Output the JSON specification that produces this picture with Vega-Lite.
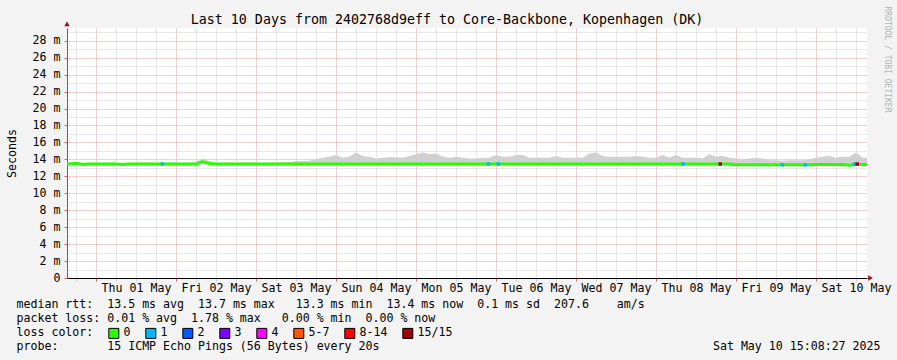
{
  "$schema": "https://vega.github.io/schema/vega-lite/v6.json",
  "width": 800,
  "height": 250,
  "autosize": {"type": "none"},
  "padding": {"left": 67, "top": 28, "right": 30, "bottom": 82},
  "background": "#f3f3f3",
  "config": {"view": {"fill": "white", "stroke": null}, "font": "DejaVu Sans Mono"},
  "title": {
    "text": "Last 10 Days from 2402768d9eff to Core-Backbone, Kopenhagen (DK)",
    "font": "DejaVu Sans Mono", "fontSize": 13.3, "fontWeight": "normal", "color": "black",
    "anchor": "middle", "frame": "group", "offset": 0, "dx": -20, "dy": 20.5
  },
  "datasets": {
    "ping": [
      {"t":"2025-04-30T14:00Z","hi":13.6,"med":13.45},
      {"t":"2025-04-30T16:00Z","hi":13.6,"med":13.45},
      {"t":"2025-04-30T18:00Z","hi":13.65,"med":13.55},
      {"t":"2025-04-30T20:00Z","hi":13.6,"med":13.4},
      {"t":"2025-04-30T22:00Z","hi":13.6,"med":13.45},
      {"t":"2025-05-01T00:00Z","hi":13.6,"med":13.45},
      {"t":"2025-05-01T02:00Z","hi":13.6,"med":13.45},
      {"t":"2025-05-01T04:00Z","hi":13.6,"med":13.45},
      {"t":"2025-05-01T06:00Z","hi":13.6,"med":13.45},
      {"t":"2025-05-01T08:00Z","hi":13.6,"med":13.4},
      {"t":"2025-05-01T10:00Z","hi":13.6,"med":13.45},
      {"t":"2025-05-01T12:00Z","hi":13.6,"med":13.45},
      {"t":"2025-05-01T14:00Z","hi":13.6,"med":13.45},
      {"t":"2025-05-01T16:00Z","hi":13.6,"med":13.45},
      {"t":"2025-05-01T18:00Z","hi":13.6,"med":13.45},
      {"t":"2025-05-01T20:00Z","hi":13.6,"med":13.45},
      {"t":"2025-05-01T22:00Z","hi":13.6,"med":13.45},
      {"t":"2025-05-02T00:00Z","hi":13.6,"med":13.45},
      {"t":"2025-05-02T02:00Z","hi":13.6,"med":13.45},
      {"t":"2025-05-02T04:00Z","hi":13.6,"med":13.45},
      {"t":"2025-05-02T06:00Z","hi":13.65,"med":13.45},
      {"t":"2025-05-02T08:00Z","hi":14.1,"med":13.7},
      {"t":"2025-05-02T10:00Z","hi":13.8,"med":13.5},
      {"t":"2025-05-02T12:00Z","hi":13.6,"med":13.45},
      {"t":"2025-05-02T14:00Z","hi":13.6,"med":13.45},
      {"t":"2025-05-02T16:00Z","hi":13.6,"med":13.45},
      {"t":"2025-05-02T18:00Z","hi":13.6,"med":13.45},
      {"t":"2025-05-02T20:00Z","hi":13.6,"med":13.45},
      {"t":"2025-05-02T22:00Z","hi":13.6,"med":13.45},
      {"t":"2025-05-03T00:00Z","hi":13.6,"med":13.45},
      {"t":"2025-05-03T02:00Z","hi":13.6,"med":13.45},
      {"t":"2025-05-03T04:00Z","hi":13.6,"med":13.45},
      {"t":"2025-05-03T06:00Z","hi":13.6,"med":13.45},
      {"t":"2025-05-03T08:00Z","hi":13.65,"med":13.45},
      {"t":"2025-05-03T10:00Z","hi":13.65,"med":13.45},
      {"t":"2025-05-03T12:00Z","hi":13.8,"med":13.45},
      {"t":"2025-05-03T14:00Z","hi":13.8,"med":13.45},
      {"t":"2025-05-03T16:00Z","hi":13.85,"med":13.45},
      {"t":"2025-05-03T18:00Z","hi":14.0,"med":13.45},
      {"t":"2025-05-03T20:00Z","hi":14.2,"med":13.45},
      {"t":"2025-05-03T22:00Z","hi":14.3,"med":13.45},
      {"t":"2025-05-04T00:00Z","hi":14.5,"med":13.45},
      {"t":"2025-05-04T02:00Z","hi":14.2,"med":13.45},
      {"t":"2025-05-04T04:00Z","hi":14.3,"med":13.45},
      {"t":"2025-05-04T06:00Z","hi":14.8,"med":13.45},
      {"t":"2025-05-04T08:00Z","hi":14.4,"med":13.45},
      {"t":"2025-05-04T10:00Z","hi":14.3,"med":13.45},
      {"t":"2025-05-04T12:00Z","hi":14.1,"med":13.45},
      {"t":"2025-05-04T14:00Z","hi":14.2,"med":13.45},
      {"t":"2025-05-04T16:00Z","hi":14.25,"med":13.45},
      {"t":"2025-05-04T18:00Z","hi":14.25,"med":13.45},
      {"t":"2025-05-04T20:00Z","hi":14.2,"med":13.45},
      {"t":"2025-05-04T22:00Z","hi":14.4,"med":13.45},
      {"t":"2025-05-05T00:00Z","hi":14.6,"med":13.45},
      {"t":"2025-05-05T02:00Z","hi":14.8,"med":13.45},
      {"t":"2025-05-05T04:00Z","hi":14.6,"med":13.45},
      {"t":"2025-05-05T06:00Z","hi":14.7,"med":13.45},
      {"t":"2025-05-05T08:00Z","hi":14.3,"med":13.45},
      {"t":"2025-05-05T10:00Z","hi":14.2,"med":13.45},
      {"t":"2025-05-05T12:00Z","hi":14.3,"med":13.45},
      {"t":"2025-05-05T14:00Z","hi":14.2,"med":13.45},
      {"t":"2025-05-05T16:00Z","hi":14.1,"med":13.45},
      {"t":"2025-05-05T18:00Z","hi":14.1,"med":13.45},
      {"t":"2025-05-05T20:00Z","hi":14.2,"med":13.45},
      {"t":"2025-05-05T22:00Z","hi":14.2,"med":13.45},
      {"t":"2025-05-06T00:00Z","hi":14.5,"med":13.45},
      {"t":"2025-05-06T02:00Z","hi":14.3,"med":13.45},
      {"t":"2025-05-06T04:00Z","hi":14.3,"med":13.45},
      {"t":"2025-05-06T06:00Z","hi":14.5,"med":13.45},
      {"t":"2025-05-06T08:00Z","hi":14.5,"med":13.45},
      {"t":"2025-05-06T10:00Z","hi":14.2,"med":13.45},
      {"t":"2025-05-06T12:00Z","hi":14.2,"med":13.45},
      {"t":"2025-05-06T14:00Z","hi":14.2,"med":13.45},
      {"t":"2025-05-06T16:00Z","hi":14.2,"med":13.45},
      {"t":"2025-05-06T18:00Z","hi":14.4,"med":13.45},
      {"t":"2025-05-06T20:00Z","hi":14.2,"med":13.45},
      {"t":"2025-05-06T22:00Z","hi":14.2,"med":13.45},
      {"t":"2025-05-07T00:00Z","hi":14.2,"med":13.45},
      {"t":"2025-05-07T02:00Z","hi":14.2,"med":13.45},
      {"t":"2025-05-07T04:00Z","hi":14.7,"med":13.45},
      {"t":"2025-05-07T06:00Z","hi":14.8,"med":13.45},
      {"t":"2025-05-07T08:00Z","hi":14.4,"med":13.45},
      {"t":"2025-05-07T10:00Z","hi":14.3,"med":13.45},
      {"t":"2025-05-07T12:00Z","hi":14.3,"med":13.45},
      {"t":"2025-05-07T14:00Z","hi":14.3,"med":13.45},
      {"t":"2025-05-07T16:00Z","hi":14.3,"med":13.45},
      {"t":"2025-05-07T18:00Z","hi":14.4,"med":13.45},
      {"t":"2025-05-07T20:00Z","hi":14.3,"med":13.45},
      {"t":"2025-05-07T22:00Z","hi":14.2,"med":13.45},
      {"t":"2025-05-08T00:00Z","hi":14.2,"med":13.45},
      {"t":"2025-05-08T02:00Z","hi":14.5,"med":13.45},
      {"t":"2025-05-08T04:00Z","hi":14.2,"med":13.45},
      {"t":"2025-05-08T06:00Z","hi":14.5,"med":13.45},
      {"t":"2025-05-08T08:00Z","hi":14.2,"med":13.45},
      {"t":"2025-05-08T10:00Z","hi":14.2,"med":13.45},
      {"t":"2025-05-08T12:00Z","hi":14.2,"med":13.45},
      {"t":"2025-05-08T14:00Z","hi":14.1,"med":13.45},
      {"t":"2025-05-08T16:00Z","hi":14.6,"med":13.45},
      {"t":"2025-05-08T18:00Z","hi":14.3,"med":13.45},
      {"t":"2025-05-08T20:00Z","hi":14.4,"med":13.45},
      {"t":"2025-05-08T22:00Z","hi":14.2,"med":13.45},
      {"t":"2025-05-09T00:00Z","hi":14.1,"med":13.35},
      {"t":"2025-05-09T02:00Z","hi":14.0,"med":13.35},
      {"t":"2025-05-09T04:00Z","hi":14.1,"med":13.35},
      {"t":"2025-05-09T06:00Z","hi":14.15,"med":13.35},
      {"t":"2025-05-09T08:00Z","hi":14.1,"med":13.35},
      {"t":"2025-05-09T10:00Z","hi":13.9,"med":13.35},
      {"t":"2025-05-09T12:00Z","hi":13.9,"med":13.35},
      {"t":"2025-05-09T14:00Z","hi":13.85,"med":13.35},
      {"t":"2025-05-09T16:00Z","hi":13.9,"med":13.35},
      {"t":"2025-05-09T18:00Z","hi":13.9,"med":13.35},
      {"t":"2025-05-09T20:00Z","hi":13.9,"med":13.35},
      {"t":"2025-05-09T22:00Z","hi":14.0,"med":13.35},
      {"t":"2025-05-10T00:00Z","hi":14.2,"med":13.4},
      {"t":"2025-05-10T02:00Z","hi":14.3,"med":13.4},
      {"t":"2025-05-10T04:00Z","hi":14.4,"med":13.4},
      {"t":"2025-05-10T06:00Z","hi":14.2,"med":13.4},
      {"t":"2025-05-10T08:00Z","hi":14.3,"med":13.4},
      {"t":"2025-05-10T10:00Z","hi":14.3,"med":13.3},
      {"t":"2025-05-10T12:00Z","hi":14.8,"med":13.4},
      {"t":"2025-05-10T14:00Z","hi":14.2,"med":13.4},
      {"t":"2025-05-10T16:00Z","hi":14.2,"med":13.4}
    ],
    "loss": [
      {"t":"2025-05-01T19:54Z","med":13.45,"loss":"1"},
      {"t":"2025-05-05T21:41Z","med":13.45,"loss":"1"},
      {"t":"2025-05-06T00:41Z","med":13.45,"loss":"1"},
      {"t":"2025-05-08T08:11Z","med":13.45,"loss":"1"},
      {"t":"2025-05-08T19:17Z","med":13.45,"loss":"15/15"},
      {"t":"2025-05-09T13:53Z","med":13.35,"loss":"1"},
      {"t":"2025-05-09T20:47Z","med":13.35,"loss":"1"},
      {"t":"2025-05-10T11:29Z","med":13.45,"loss":"1"},
      {"t":"2025-05-10T12:23Z","med":13.45,"loss":"15/15"}
    ]
  },
  "layer": [
    {
      "data": {"name": "ping"},
      "mark": {"type": "area", "color": "#d0d0d0", "clip": true, "interpolate": "linear"},
      "encoding": {
        "x": {
          "field": "t", "type": "temporal",
          "scale": {"type": "utc", "domain": [1746026280000, 1746890280000]},
          "axis": {
            "orient": "bottom",
            "values": [1746036000000,1746057600000,1746079200000,1746100800000,1746122400000,1746144000000,1746165600000,1746187200000,1746208800000,1746230400000,1746252000000,1746273600000,1746295200000,1746316800000,1746338400000,1746360000000,1746381600000,1746403200000,1746424800000,1746446400000,1746468000000,1746489600000,1746511200000,1746532800000,1746554400000,1746576000000,1746597600000,1746619200000,1746640800000,1746662400000,1746684000000,1746705600000,1746727200000,1746748800000,1746770400000,1746792000000,1746813600000,1746835200000,1746856800000,1746878400000],
            "grid": true,
            "gridColor": {"condition": {"test": "utchours(datum.value) === 0", "value": "#e9a0a0"}, "value": "#d2d2d2"},
            "gridDash": [1, 1],
            "domainColor": "#000000",
            "tickColor": {"condition": {"test": "utchours(datum.value) === 0", "value": "#e06060"}, "value": "#c8c8c8"},
            "tickSize": 3,
            "labelExpr": "utchours(datum.value) === 12 ? utcFormat(datum.value, '%a %d %b') : ''",
            "labelOverlap": false,
            "labelFlush": false,
            "labelFont": "DejaVu Sans Mono",
            "labelFontSize": 11.6,
            "labelColor": "black",
            "labelPadding": 1,
            "labelBaseline": "top",
            "title": [
              "median rtt:\u00a0\u00a013.5 ms avg\u00a0\u00a013.7 ms max\u00a0\u00a0\u00a013.3 ms min\u00a0\u00a013.4 ms now\u00a0\u00a00.1 ms sd\u00a0\u00a0207.6\u00a0\u00a0\u00a0\u00a0am/s",
              "packet loss: 0.01 % avg\u00a0\u00a01.78 % max\u00a0\u00a0\u00a00.00 % min\u00a0\u00a00.00 % now",
              "loss color:",
              "probe:\u00a0\u00a0\u00a0\u00a0\u00a0\u00a0\u00a015 ICMP Echo Pings (56 Bytes) every 20s"
            ],
            "titleX": -51,
            "titleY": 29.5,
            "titleAlign": "left",
            "titleAnchor": "start",
            "titleBaseline": "alphabetic",
            "titleFont": "DejaVu Sans Mono",
            "titleFontSize": 11.6,
            "titleFontWeight": "normal",
            "titleColor": "black",
            "titleLineHeight": 14
          }
        },
        "y": {
          "field": "hi", "type": "quantitative",
          "scale": {"domain": [0, 29.5], "nice": false, "zero": true},
          "axis": {
            "orient": "left",
            "values": [0,1,2,3,4,5,6,7,8,9,10,11,12,13,14,15,16,17,18,19,20,21,22,23,24,25,26,27,28,29],
            "grid": true,
            "gridColor": {"condition": {"test": "datum.value % 2 === 0", "value": "#e9a0a0"}, "value": "#d2d2d2"},
            "gridDash": [1, 1],
            "domainColor": "#666666",
            "tickColor": {"condition": {"test": "datum.value % 2 === 0", "value": "#e06060"}, "value": "#d2d2d2"},
            "tickOpacity": {"condition": {"test": "datum.value % 2 === 0", "value": 1}, "value": 0},
            "tickSize": 3,
            "labelPadding": 4,
            "labelExpr": "datum.value % 2 !== 0 ? '' : (datum.value === 0 ? '0\u00a0\u00a0' : datum.value + '\u00a0m')",
            "labelFont": "DejaVu Sans Mono",
            "labelFontSize": 11.6,
            "labelColor": "black",
            "labelBaseline": "middle",
            "labelOverlap": false,
            "labelFlush": false,
            "title": "Seconds",
            "titleX": -55,
            "titleY": 125,
            "titleAngle": 270,
            "titleAlign": "center",
            "titleBaseline": "middle",
            "titleFont": "DejaVu Sans Mono",
            "titleFontSize": 11.6,
            "titleFontWeight": "normal",
            "titleColor": "black"
          }
        },
        "y2": {"field": "med"}
      }
    },
    {
      "data": {"name": "ping"},
      "mark": {"type": "line", "color": "#26ff00", "strokeWidth": 3, "clip": true},
      "encoding": {
        "x": {"field": "t", "type": "temporal", "axis": null},
        "y": {"field": "med", "type": "quantitative", "axis": null}
      }
    },
    {
      "data": {"name": "loss"},
      "mark": {"type": "point", "shape": "square", "filled": true, "size": 12, "opacity": 1},
      "encoding": {
        "x": {
          "field": "t", "type": "temporal",
          "axis": {
            "orient": "top", "labels": false, "ticks": false, "domain": false, "grid": false,
            "title": "Sat May 10 15:08:27 2025",
            "titleX": 813, "titleY": 321.5, "titleAlign": "right", "titleAnchor": "end", "titleBaseline": "alphabetic",
            "titleFont": "DejaVu Sans Mono", "titleFontSize": 11.6, "titleFontWeight": "normal", "titleColor": "black"
          }
        },
        "y": {
          "field": "med", "type": "quantitative",
          "axis": {
            "orient": "right", "labels": false, "ticks": false, "domain": false, "grid": false,
            "title": "RRDTOOL / TOBI OETIKER",
            "titleX": 19, "titleY": 31, "titleAngle": 90, "titleAlign": "center", "titleBaseline": "middle",
            "titleFont": "DejaVu Sans Mono", "titleFontSize": 8, "titleFontWeight": "normal", "titleColor": "#b4b4b4"
          }
        },
        "color": {
          "field": "loss", "type": "nominal",
          "scale": {
            "domain": ["0", "1", "2", "3", "4", "5-7", "8-14", "15/15"],
            "range": ["#26ff00", "#00b8ff", "#0059ff", "#7e00ff", "#ff00ff", "#ff5500", "#ff0000", "#a10000"]
          },
          "legend": {
            "orient": "none", "legendX": 41, "legendY": 299.5,
            "direction": "horizontal", "columns": 8, "title": null,
            "symbolType": "square", "symbolSize": 100, "symbolStrokeColor": "black", "symbolStrokeWidth": 1,
            "labelFont": "DejaVu Sans Mono", "labelFontSize": 11.6, "labelColor": "black",
            "labelOffset": 4, "columnPadding": 12, "padding": 0
          }
        }
      }
    },
    {
      "data": {"values": [{}]},
      "mark": {"type": "point", "shape": "triangle-up", "filled": true, "size": 30, "color": "#a01010", "opacity": 1},
      "encoding": {
        "x": {"datum": 1746026280000, "type": "temporal", "axis": null},
        "y": {"datum": 30, "type": "quantitative", "axis": null}
      }
    },
    {
      "data": {"values": [{}]},
      "mark": {"type": "point", "shape": "triangle-right", "filled": true, "size": 30, "color": "#a01010", "opacity": 1},
      "encoding": {
        "x": {"datum": 1746894060000, "type": "temporal", "axis": null},
        "y": {"datum": 0, "type": "quantitative", "axis": null}
      }
    }
  ],
  "resolve": {"axis": {"x": "independent", "y": "independent"}}
}
